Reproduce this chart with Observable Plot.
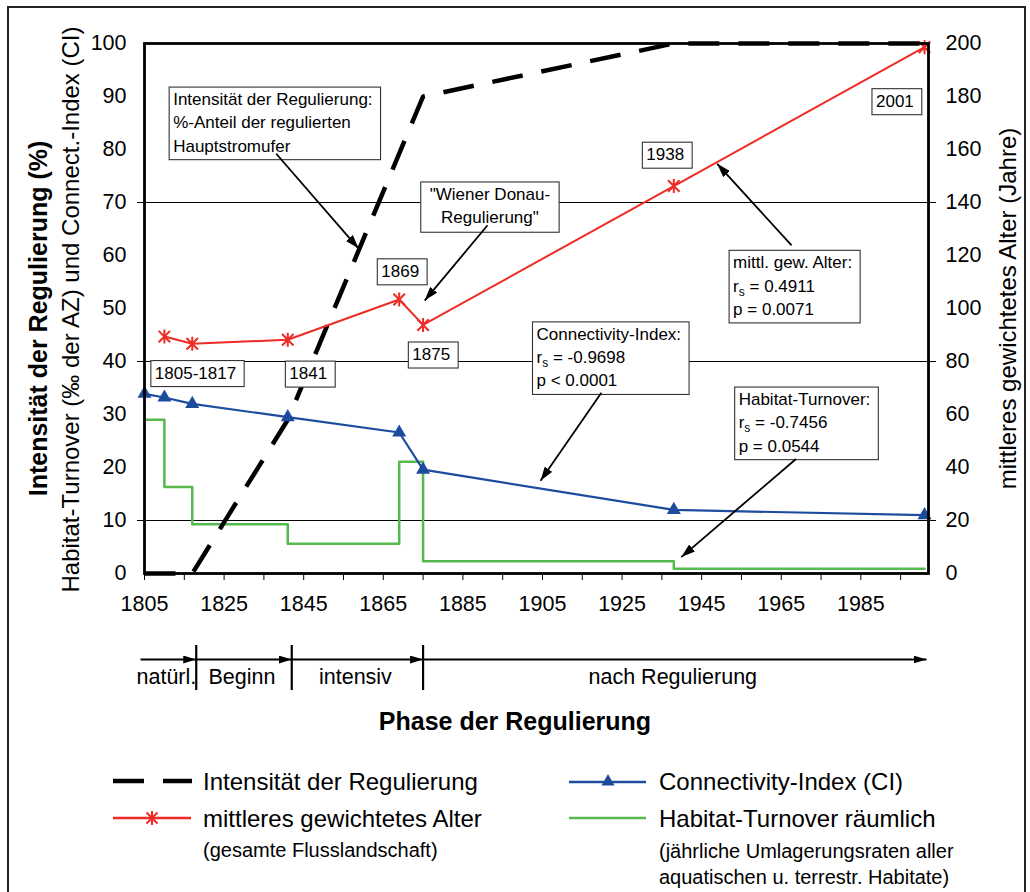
<!DOCTYPE html>
<html>
<head>
<meta charset="utf-8">
<script src="https://cdn.jsdelivr.net/npm/d3@7"></script>
<script src="https://cdn.jsdelivr.net/npm/@observablehq/plot@0.6"></script>
<style>
  body { margin: 0; background: #fff; font-family: "Liberation Sans", Arial, sans-serif; }
  #page { position: relative; width: 1030px; height: 892px; overflow: hidden; background: #fff; }
  #border { position: absolute; left: 7px; top: 6px; width: 1015px; height: 900px; border: 2px solid #222; }
  #main { position: absolute; left: 0; top: 0; }
  #phase { position: absolute; left: 0; top: 620px; }
  #ptitle { position: absolute; left: 0; top: 706px; width: 1030px; text-align: center; font-weight: bold; font-size: 25px; line-height: 30px; }
  #legend { position: absolute; left: 0; top: 740px; }
</style>
</head>
<body>
<div id="page">
  <div id="border"></div>
  <div id="main"></div>
  <div id="phase"></div>
  <div id="ptitle">Phase der Regulierung</div>
  <svg id="legend" width="1030" height="152"></svg>
</div>
<script>
// ---------------- data ----------------
const intensYears  = [1805, 1817, 1841, 1875, 1938, 2001];
const intensValues = [0, 0, 29, 90, 100, 100];                 // % (left axis)

const ageYears  = [1810, 1817, 1841, 1869, 1875, 1938, 2001];
const ageValues = [89.4, 86.7, 88.2, 103.4, 93.8, 146.2, 198.6]; // Jahre (right axis)

const ciYears  = [1805, 1810, 1817, 1841, 1869, 1875, 1938, 2001];
const ciValues = [33.9, 33.2, 32.0, 29.5, 26.6, 19.6, 12.0, 11.0];

const htYears  = [1805, 1810, 1817, 1841, 1869, 1875, 1938, 2001];
const htValues = [29.0, 16.3, 9.3, 5.6, 21.1, 2.3, 0.9, 0.9];  // ‰ (step)

const leftTicks  = d3.range(0, 101, 10);
const gridTicks  = [10, 40, 70];
const xMinor     = d3.range(1805, 2001, 10);
const xLabels    = d3.range(1805, 1986, 20);

const phaseNames  = ["natürl.", "Beginn", "intensiv", "nach Regulierung"];
const phaseStarts = [1804, 1818, 1842, 1875];
const phaseEnds   = [1818, 1842, 1875, 2001.5];

// annotation boxes (anchor = top-left of text, in data units)
const annStart = [
  {x: 1812.2, y: 91.5, text: "Intensität der Regulierung:\n%-Anteil der regulierten\nHauptstromufer"},
  {x: 1864.5, y: 59.1, text: "1869"},
  {x: 1807.6, y: 39.9, text: "1805-1817"},
  {x: 1841.4, y: 39.8, text: "1841"},
  {x: 1872.3, y: 43.4, text: "1875"},
  {x: 1931.1, y: 81.1, text: "1938"},
  {x: 1988.8, y: 91.2, text: "2001"},
  {x: 1952.9, y: 60.7, text: "mittl. gew. Alter:\nrs = 0.4911\np = 0.0071"},
  {x: 1903.5, y: 47.2, text: "Connectivity-Index:\nrs = -0.9698\np < 0.0001"},
  {x: 1954.3, y: 34.9, text: "Habitat-Turnover:\nrs = -0.7456\np = 0.0544"}
];
const annMiddle = [
  {x: 1891.8, y: 73.6, text: "\"Wiener Donau-\nRegulierung\""}
];
const arrows = [
  {x1: 1838.1, y1: 79.2, x2: 1858.8, y2: 61.3},
  {x1: 1891.2, y1: 65.7, x2: 1875.4, y2: 51.5},
  {x1: 1967.6, y1: 61.9, x2: 1948.9, y2: 77.3},
  {x1: 1919.8, y1: 34.1, x2: 1904.5, y2: 17.5},
  {x1: 1968.7, y1: 21.6, x2: 1939.9, y2: 3.1}
];

// ---------------- build tables ----------------
const intens = intensYears.map((x, i) => ({x, v: intensValues[i]}));
const age    = ageYears.map((x, i) => ({x, age: ageValues[i]}));
const ci     = ciYears.map((x, i) => ({x, v: ciValues[i]}));
const ht     = htYears.map((x, i) => ({x, v: htValues[i]}));
const phases = phaseNames.map((name, i) => ({name, start: phaseStarts[i], end: phaseEnds[i]}));

const RED = "#ee2b24", BLUE = "#1d4c9f", GREEN = "#56b94f";
const FONT = "'Liberation Sans', Arial, Helvetica, sans-serif";
const xDomain = [1805, 2002];

const star = {
  draw(ctx, size) {
    const r = Math.sqrt(size / Math.PI), d = r * 0.82;
    ctx.moveTo(-d, -d); ctx.lineTo(d, d);
    ctx.moveTo(-d, d);  ctx.lineTo(d, -d);
    ctx.moveTo(0, -r);  ctx.lineTo(0, r);
  }
};

const main = Plot.plot({
  width: 1030, height: 620,
  marginLeft: 144, marginRight: 102, marginTop: 43, marginBottom: 47,
  x: {domain: xDomain},
  y: {domain: [0, 100]},
  style: {fontFamily: FONT, fontSize: "21.5px", color: "black", background: "transparent", overflow: "visible"},
  marks: [
    Plot.ruleY(gridTicks, {stroke: "black", strokeWidth: 1}),
    Plot.axisY(gridTicks, {anchor: "left", tickSize: 7, tickFormat: () => "", label: null}),
    Plot.axisY(gridTicks, {anchor: "right", tickSize: 7, tickFormat: () => "", label: null}),
    Plot.axisY(leftTicks, {anchor: "left", tickSize: 0, tickPadding: 18, label: null}),
    Plot.axisY(leftTicks, {anchor: "right", tickSize: 0, tickPadding: 17, tickFormat: d => String(d * 2), label: null}),
    Plot.axisX(xMinor, {tickSize: 7, tickFormat: () => "", label: null}),
    Plot.axisX(xLabels, {tickSize: 0, tickPadding: 22, tickFormat: d => String(d), label: null}),

    Plot.line(ht, {x: "x", y: "v", curve: "step-after", stroke: GREEN, strokeWidth: 2.5}),
    Plot.line(intens, {x: "x", y: "v", stroke: "black", strokeWidth: 4.5, strokeDasharray: "31,19", strokeLinecap: "butt", strokeLinejoin: "miter"}),
    Plot.line(ci, {x: "x", y: "v", stroke: BLUE, strokeWidth: 2.2}),
    Plot.dot(ci, {x: "x", y: "v", symbol: "triangle", r: 5.2, fill: BLUE, stroke: "none"}),
    Plot.line(age, {x: "x", y: d => d.age / 2, stroke: RED, strokeWidth: 2}),
    Plot.dot(age, {x: "x", y: d => d.age / 2, symbol: star, r: 7, stroke: RED, strokeWidth: 2, fill: "none"}),

    Plot.frame({stroke: "black", strokeWidth: 2.8}),

    Plot.text(["Intensität der Regulierung (%)"], {text: d => d, frameAnchor: "left", textAnchor: "middle", rotate: -90, dx: -106, dy: 10, fontWeight: "bold", fontSize: 25}),
    Plot.text(["Habitat-Turnover (‰ der AZ) und Connect.-Index (CI)"], {text: d => d, frameAnchor: "left", textAnchor: "middle", rotate: -90, dx: -73, dy: 1, fontSize: 24}),
    Plot.text(["mittleres gewichtetes Alter (Jahre)"], {text: d => d, frameAnchor: "right", textAnchor: "middle", rotate: -90, dx: 80, dy: 0, fontSize: 24}),

    Plot.text(annStart, {x: "x", y: "y", text: "text", textAnchor: "start", lineAnchor: "top", fontSize: 17, lineHeight: 1.37, fill: "black", className: "ann"}),
    Plot.text(annMiddle, {x: "x", y: "y", text: "text", textAnchor: "middle", lineAnchor: "top", fontSize: 17, lineHeight: 1.37, fill: "black", className: "annm"}),
    Plot.link(arrows, {x1: "x1", y1: "y1", x2: "x2", y2: "y2", stroke: "black", strokeWidth: 1.8})
  ]
});
document.getElementById("main").appendChild(main);

const phasePlot = Plot.plot({
  width: 1030, height: 90,
  marginLeft: 144, marginRight: 102, marginTop: 0, marginBottom: 0,
  x: {domain: xDomain, axis: null},
  y: {domain: [0, 90], range: [0, 90], axis: null},
  style: {fontFamily: FONT, fontSize: "22px", color: "black", background: "transparent", overflow: "visible"},
  marks: [
    Plot.link(phases, {x1: "start", x2: "end", y1: () => 39, y2: () => 39, stroke: "black", strokeWidth: 2}),
    Plot.ruleX(phaseStarts.slice(1), {y1: () => 25, y2: () => 70, stroke: "black", strokeWidth: 2.2}),
    Plot.text(phases, {x: d => (d.start + d.end) / 2, y: () => 57, dx: -2, text: "name", fontSize: 21.5})
  ]
});
document.getElementById("phase").appendChild(phasePlot);

// ---------------- post-processing ----------------
const NS = "http://www.w3.org/2000/svg";
function el(name, attrs) {
  const e = document.createElementNS(NS, name);
  for (const k in attrs) e.setAttribute(k, attrs[k]);
  return e;
}
function addMarker(svg, id, len, wid) {
  let defs = svg.querySelector("defs");
  if (!defs) { defs = el("defs", {}); svg.insertBefore(defs, svg.firstChild); }
  const m = el("marker", {id, viewBox: `0 0 ${len} ${wid}`, refX: len, refY: wid / 2,
    markerWidth: len, markerHeight: wid, markerUnits: "userSpaceOnUse", orient: "auto"});
  m.appendChild(el("path", {d: `M0,0L${len},${wid / 2}L0,${wid}Z`, fill: "black"}));
  defs.appendChild(m);
  svg.querySelectorAll('g[aria-label="link"] path').forEach(p => p.setAttribute("marker-end", `url(#${id})`));
}
addMarker(main, "ahMain", 14, 9);
addMarker(phasePlot, "ahPhase", 13, 8);

// subscripts r_s
main.querySelectorAll("text tspan").forEach(ts => {
  const t = ts.textContent;
  if (t.startsWith("rs ")) {
    ts.textContent = "";
    const a = el("tspan", {}); a.textContent = "r";
    const b = el("tspan", {dy: "4", "font-size": "12"}); b.textContent = "s";
    const c = el("tspan", {dy: "-4"}); c.textContent = t.slice(2);
    ts.append(a, b, c);
  }
});

// boxes behind annotation texts
function boxes(sel, padL, padR, padT, padB) {
  main.querySelectorAll(sel).forEach(t => {
    const bb = t.getBBox();
    const r = el("rect", {x: bb.x - padL, y: bb.y - padT, width: bb.width + padL + padR, height: bb.height + padT + padB,
      fill: "white", stroke: "#333", "stroke-width": 1.1});
    const tr = t.getAttribute("transform");
    if (tr) r.setAttribute("transform", tr);
    t.parentNode.insertBefore(r, t);
  });
}
let sStart = "g.ann text", sMid = "g.annm text";
if (!main.querySelector(sStart)) {
  const gs = [...main.querySelectorAll('g[aria-label="text"]')];
  const ann = gs.filter(g => g.getAttribute("font-size") === "17");
  ann.forEach((g, i) => g.classList.add(g.getAttribute("text-anchor") === "middle" ? "annm" : "ann"));
}
boxes(sStart, 4, 8, 3, 4);
boxes(sMid, 9, 9, 3, 5);

// ---------------- legend ----------------
const lg = document.getElementById("legend");
const lfont = {"font-family": FONT, fill: "black"};
lg.append(
  el("line", {x1: 113, x2: 192, y1: 41, y2: 41, stroke: "black", "stroke-width": 4.5, "stroke-dasharray": "31,19"}),
  el("line", {x1: 113, x2: 191, y1: 78, y2: 78, stroke: RED, "stroke-width": 2.5}),
  el("path", {d: "M146.5,72.5L157.5,83.5M146.5,83.5L157.5,72.5M152,71L152,85", stroke: RED, "stroke-width": 2, fill: "none"}),
  el("line", {x1: 569, x2: 646, y1: 42, y2: 42, stroke: BLUE, "stroke-width": 2.5}),
  el("path", {d: "M608,34L614.5,45.5L601.5,45.5Z", fill: BLUE}),
  el("line", {x1: 569, x2: 646, y1: 78, y2: 78, stroke: GREEN, "stroke-width": 2.5})
);
const legendTexts = [
  ["Intensität der Regulierung", 203, 50, 24],
  ["mittleres gewichtetes Alter", 203, 87, 24],
  ["(gesamte Flusslandschaft)", 203, 117, 20],
  ["Connectivity-Index (CI)", 659, 50, 24],
  ["Habitat-Turnover räumlich", 659, 87, 24],
  ["(jährliche Umlagerungsraten aller", 659, 118, 20],
  ["aquatischen u. terrestr. Habitate)", 659, 144, 20]
];
legendTexts.forEach(([s, x, y, fs]) => {
  const t = el("text", Object.assign({x, y, "font-size": fs}, lfont));
  t.textContent = s;
  lg.appendChild(t);
});
</script>
</body>
</html>
